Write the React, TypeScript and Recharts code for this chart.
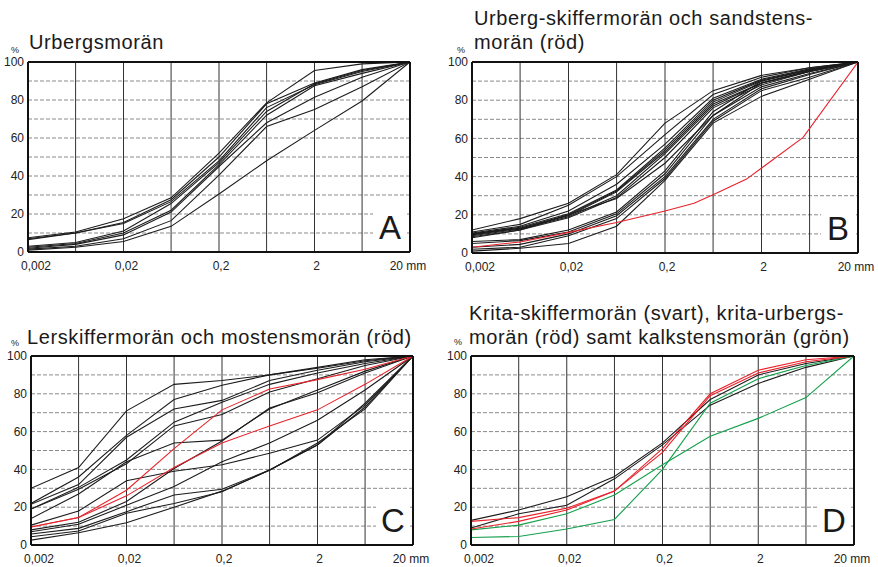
import React from 'react';
import { LineChart, Line, XAxis, YAxis, CartesianGrid, ReferenceLine } from 'recharts';

// grain sizes (mm) where the curves are read, one per vertical grid line
const SIZES = [0.002, 0.0063, 0.02, 0.063, 0.2, 0.63, 2, 6.3, 20];
const LABEL_SIZES = [0.002, 0.02, 0.2, 2, 20];
const LABELS = ['0,002', '0,02', '0,2', '2', '20 mm'];
const PERCENT_TICKS = [0, 10, 20, 30, 40, 50, 60, 70, 80, 90, 100];

// A – Urbergsmorän
const urbergA = [
  [7.5, 10.5, 17.5, 28.5, 52, 78.5, 95.5, 99, 100],
  [7, 10, 15.5, 27.5, 50, 78, 89, 96, 100],
  [6.5, 10, 15, 26.5, 48, 76, 88, 95, 100],
  [3, 5, 11, 25.5, 47, 74, 88.5, 95.5, 100],
  [2.5, 4.5, 10, 22, 46, 72, 87.5, 94, 100],
  [2, 4, 9, 21, 45, 68, 81.5, 92, 100],
  [1.5, 3, 7, 16.5, 40.5, 66, 75, 87, 100],
  [1, 2.5, 5.5, 13.5, 30.5, 48, 64, 79.5, 100],
];

// B – Urberg-skiffermorän (black) and sandstensmorän (red)
const skifferB = [
  [12, 18, 26, 41, 68, 85, 93, 97, 100],
  [11, 15, 25, 40, 62, 83, 92, 97, 100],
  [10.5, 14, 22, 36, 57, 81, 91, 96.5, 100],
  [10, 13.5, 20.5, 33, 55, 80, 90.5, 96, 100],
  [10, 13, 20, 32.5, 54, 79, 90, 96, 100],
  [9.5, 13, 19.5, 32, 53, 78, 89, 95.5, 100],
  [9, 12.5, 19, 30, 52, 77, 89, 95, 100],
  [8.5, 12, 18.5, 29, 50, 76, 88, 95, 100],
  [8, 12, 20, 28.5, 47, 72, 87, 94, 100],
  [6, 7, 12, 21.5, 43, 74, 90, 96, 100],
  [5, 6.5, 11, 20.5, 41.5, 72, 89, 95, 100],
  [3, 4.5, 10, 19.5, 40, 70, 86, 93.5, 100],
  [2, 3, 9, 18, 39, 69, 85, 92, 100],
  [1, 2.5, 5, 14, 38, 68, 82, 91, 100],
];
const sandstenB_x = [0.002, 0.0063, 0.02, 0.063, 0.2, 0.4, 0.63, 1.4, 5.4, 20];
const sandstenB_y = [3, 5.8, 10.8, 16, 22, 26, 30.5, 38.7, 60.5, 100];

// C – Lerskiffermorän (black) and mostensmorän (red)
const lerskifferC = [
  [30, 41, 71, 85, 87, 90, 94, 98, 100],
  [22, 36, 58, 77, 84.5, 90, 93.5, 97.5, 100],
  [21.5, 32, 57, 72, 76.5, 87, 92.5, 97, 100],
  [19, 30.5, 45, 65, 75.5, 85, 91, 96, 100],
  [19, 29.5, 43, 63, 69, 81, 88, 95, 100],
  [14, 27, 44, 54, 55.5, 72, 82, 92, 100],
  [10.5, 18, 34, 39, 42.5, 48.5, 55.5, 74, 100],
  [8, 12, 23, 40.5, 55, 72.5, 80.5, 91, 100],
  [7, 11, 21, 31, 44, 54, 66, 82, 100],
  [5.8, 8.8, 17.6, 26.5, 29.5, 39.7, 53, 75, 100],
  [4.4, 7.4, 16.8, 22, 28.2, 39.7, 52.9, 73, 100],
  [2.6, 6.5, 11.8, 20, 28.5, 39.5, 54, 72, 100],
];
const mostensC = [
  [9.5, 14.5, 29, 51, 71.5, 82.5, 87.5, 93, 100],
  [9.5, 14.5, 26, 41, 54, 63, 71.5, 85, 100],
];

// D – Krita-skiffermorän (black), krita-urbergsmorän (red), kalkstensmorän (green)
const kritaSkifferD = [
  [13, 18.5, 25.5, 36.3, 54, 77, 90, 96, 100],
  [9, 16.5, 21, 35, 53, 74, 85.5, 94, 100],
];
const kritaUrbergD = [
  [12.5, 14.5, 19.5, 28.5, 51, 80, 92.5, 98, 100],
  [8.5, 12.5, 18.5, 28.5, 49, 79, 91, 97, 100],
];
const kalkstenD = [
  [8, 10.5, 16.5, 26.5, 42.5, 57.5, 67, 78, 100],
  [4, 4.5, 8.5, 13.5, 40, 75, 88, 95, 100],
];

const BLACK = '#1c1c1c';
const RED = '#e8232b';
const GREEN = '#13a04b';
const FONT = '"Liberation Sans", Arial, sans-serif';

type Pt = { x: number; y: number };
type Curve = { data: Pt[]; color: string };

const toPoints = (xs: number[], ys: number[]): Pt[] => xs.map((x, i) => ({ x, y: ys[i] }));
const curves = (rows: number[][], color: string): Curve[] =>
  rows.map((r) => ({ data: toPoints(SIZES, r), color }));

const XTick = (props: any) => {
  const { x, y, payload, index } = props;
  const shift = [8, 3, 2, 2, -2][index] ?? 0;
  return (
    <text x={x + shift} y={y + 10} textAnchor="middle" fontSize={12} fill="#222" fontFamily={FONT}>
      {LABELS[LABEL_SIZES.indexOf(payload.value)]}
    </text>
  );
};

interface PanelProps {
  l: number; r: number; t: number; b: number;
  lines: Curve[];
  letter: string;
  title: string[];
  titleX: number;
  titleY: number;
  pctX: number;
  pctY: number;
}

function Panel({ l, r, t, b, lines, letter, title, titleX, titleY, pctX, pctY }: PanelProps) {
  const yw = 30, mt = 10, mr = 24, xh = 28;
  const w = r - l + yw + mr;
  const h = b - t + mt + xh;
  return (
    <>
      {title.map((s, i) => (
        <div key={i} style={{ position: 'absolute', left: titleX, top: titleY + i * 24, fontSize: 20, lineHeight: '24px', color: '#1a1a1a', letterSpacing: 0.6, whiteSpace: 'nowrap' }}>
          {s}
        </div>
      ))}
      <div style={{ position: 'absolute', left: pctX, top: pctY, fontSize: 9, color: '#222' }}>%</div>
      <div style={{ position: 'absolute', left: l - yw, top: t - mt }}>
        <LineChart width={w} height={h} margin={{ top: mt, right: mr, left: 0, bottom: 0 }}>
          <CartesianGrid horizontal vertical={false} stroke="#8a8a8a" strokeDasharray="4 2" />
          <XAxis
            dataKey="x"
            type="number"
            scale="log"
            domain={[0.002, 20]}
            allowDataOverflow
            ticks={LABEL_SIZES}
            tick={<XTick />}
            tickLine={false}
            axisLine={false}
            height={xh}
            interval={0}
          />
          <YAxis
            type="number"
            domain={[0, 100]}
            ticks={PERCENT_TICKS}
            tickFormatter={(v: number) => (v % 20 === 0 ? String(v) : '')}
            tick={{ fontSize: 12, fill: '#222', fontFamily: FONT }}
            tickLine={false}
            axisLine={false}
            tickSize={2}
            tickMargin={2}
            width={yw}
            interval={0}
          />
          {SIZES.slice(1, -1).map((s) => (
            <ReferenceLine key={s} x={s} stroke="#333" strokeWidth={1} />
          ))}
          {lines.map((c, i) => (
            <Line
              key={i}
              data={c.data}
              dataKey="y"
              stroke={c.color}
              strokeWidth={1.1}
              dot={false}
              isAnimationActive={false}
              type="linear"
            />
          ))}
          <ReferenceLine y={0} stroke="#111" strokeWidth={2} />
          <ReferenceLine y={100} stroke="#111" strokeWidth={2} />
          <ReferenceLine x={0.002} stroke="#111" strokeWidth={2} />
          <ReferenceLine x={20} stroke="#111" strokeWidth={2} />
        </LineChart>
      </div>
      <div
        style={{
          position: 'absolute', left: r - 37, top: b - 47, width: 34, height: 45,
          background: '#fff', fontSize: 33, lineHeight: '45px', textAlign: 'center', color: '#1a1a1a',
        }}
      >
        {letter}
      </div>
    </>
  );
}

export default function App() {
  return (
    <div style={{ position: 'absolute', left: 0, top: 0, width: 878, height: 567, background: '#fff', fontFamily: FONT, overflow: 'hidden' }}>
      <Panel
        l={28} r={410} t={62} b={252}
        lines={curves(urbergA, BLACK)}
        letter="A"
        title={['Urbergsmorän']}
        titleX={29} titleY={30}
        pctX={11} pctY={45}
      />
      <Panel
        l={472} r={858} t={62} b={253}
        lines={[...curves(skifferB, BLACK), { data: toPoints(sandstenB_x, sandstenB_y), color: RED }]}
        letter="B"
        title={['Urberg-skiffermorän och sandstens-', 'morän (röd)']}
        titleX={474} titleY={6}
        pctX={457} pctY={45}
      />
      <Panel
        l={31} r={413} t={356} b={545}
        lines={[...curves(lerskifferC, BLACK), ...curves(mostensC, RED)]}
        letter="C"
        title={['Lerskiffermorän och mostensmorän (röd)']}
        titleX={27} titleY={325}
        pctX={11} pctY={338}
      />
      <Panel
        l={471} r={854} t={356} b={545}
        lines={[...curves(kritaSkifferD, BLACK), ...curves(kalkstenD, GREEN), ...curves(kritaUrbergD, RED)]}
        letter="D"
        title={['Krita-skiffermorän (svart), krita-urbergs-', 'morän (röd) samt kalkstensmorän (grön)']}
        titleX={469} titleY={301}
        pctX={454} pctY={337}
      />
    </div>
  );
}
